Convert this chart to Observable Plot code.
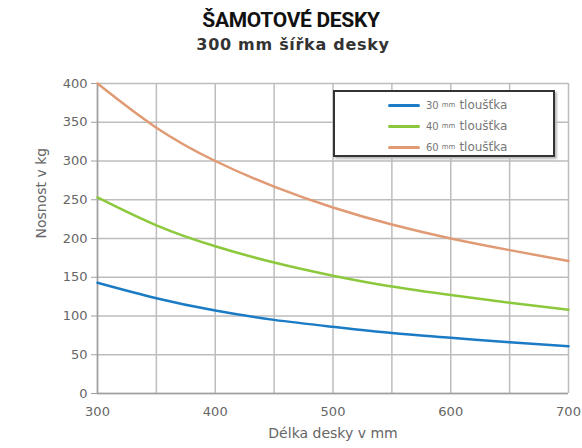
<!DOCTYPE html>
<html><head><meta charset="utf-8">
<script src="https://cdn.jsdelivr.net/npm/d3@7"></script>
<script src="https://cdn.jsdelivr.net/npm/@observablehq/plot@0.6"></script>
<style>
body{margin:0;background:#fff;width:582px;height:448px;position:relative;overflow:hidden;font-family:"DejaVu Sans",sans-serif;}
#title{position:absolute;top:6px;left:0;width:582px;text-align:center;font:bold 21px Roboto,sans-serif;line-height:28px;color:#111;letter-spacing:-0.3px;}
#subtitle{position:absolute;top:34px;left:2px;width:582px;text-align:center;font:bold 16px "DejaVu Sans",sans-serif;line-height:22px;color:#333;letter-spacing:0.7px;}
#chart{position:absolute;top:60px;left:0;}
#legend{position:absolute;left:333px;top:90px;width:218px;height:63px;border:2px solid #333;background:#fff;box-shadow:2px 2px 2px #bbb;}
.li{position:absolute;left:53px;height:20px;display:flex;align-items:center;color:#777;}
.sw{width:32px;height:3px;margin-right:6px;border-radius:2px;}
.n{font-size:10px;}.u{font-size:7px;margin:0 4px 0 3px;}.t{font-size:12px;}
</style></head><body>
<div id="title"></div>
<div id="subtitle"></div>
<div id="chart"></div>
<div id="legend"></div>
<script>
const titleText = "ŠAMOTOVÉ DESKY";
const subtitleText = "300 mm šířka desky";
const xLabel = "Délka desky v mm";
const yLabel = "Nosnost v kg";
const lengths = [300, 350, 400, 450, 500, 550, 600, 650, 700];
const series = ["30 mm tloušťka", "40 mm tloušťka", "60 mm tloušťka"];
const thickness = ["30", "40", "60"];
const colors = ["#1b7bc4", "#8cc83c", "#e09a74"];
const load30 = [143, 123, 107, 95, 86, 78, 72, 66, 61];
const load40 = [253, 217, 190, 169, 152, 138, 127, 117, 108];
const load60 = [400, 343, 300, 267, 240, 218, 200, 185, 171];
const xTicks = [300, 400, 500, 600, 700];
const xGrid = [300, 350, 400, 450, 500, 550, 600, 650, 700];
const yTicks = [0, 50, 100, 150, 200, 250, 300, 350, 400];

document.getElementById("title").textContent = titleText;
document.getElementById("subtitle").textContent = subtitleText;

const allLoads = [load30, load40, load60];
const data = [];
series.forEach((s, i) => lengths.forEach((x, j) => data.push({series: s, x, y: allLoads[i][j]})));

const chart = Plot.plot({
  width: 582, height: 388,
  marginTop: 23, marginBottom: 55, marginLeft: 97, marginRight: 14,
  style: {fontFamily: "DejaVu Sans, sans-serif", fontSize: "13px", color: "#666", background: "#fff"},
  x: {domain: [300, 700]},
  y: {domain: [0, 400]},
  color: {domain: series, range: colors},
  marks: [
    Plot.gridX(xGrid, {stroke: "#bdbdbd", strokeOpacity: 1, strokeWidth: 1.5}),
    Plot.gridY(yTicks, {stroke: "#bdbdbd", strokeOpacity: 1, strokeWidth: 1.5}),
    Plot.ruleX([300], {stroke: "#a0a0a0", strokeWidth: 1.5}),
    Plot.ruleY([0], {stroke: "#a0a0a0", strokeWidth: 1.5}),
    Plot.axisY({ticks: yTicks, tickSize: 6, tickPadding: 4, stroke: "#a0a0a0", fill: "#666", label: null, fontSize: 13}),
    Plot.axisX({ticks: xTicks, tickSize: 0, tickPadding: 13, fill: "#666", label: null, fontSize: 13}),
    Plot.text([xLabel], {frameAnchor: "bottom", dy: 44, fill: "#666", fontSize: 14}),
    Plot.text([yLabel], {frameAnchor: "left", dx: -56, rotate: -90, fill: "#666", fontSize: 14}),
    Plot.line(data, {x: "x", y: "y", z: "series", stroke: "series", strokeWidth: 2.5, curve: "natural"})
  ]
});
document.getElementById("chart").appendChild(chart);

const lg = document.getElementById("legend");
series.forEach((s, i) => {
  const row = document.createElement("div");
  row.className = "li";
  row.style.top = (3 + i * 21) + "px";
  row.innerHTML = `<span class="sw" style="background:${colors[i]}"></span><span class="n">${thickness[i]}</span><span class="u">mm</span><span class="t">tloušťka</span>`;
  lg.appendChild(row);
});
</script>
</body></html>
